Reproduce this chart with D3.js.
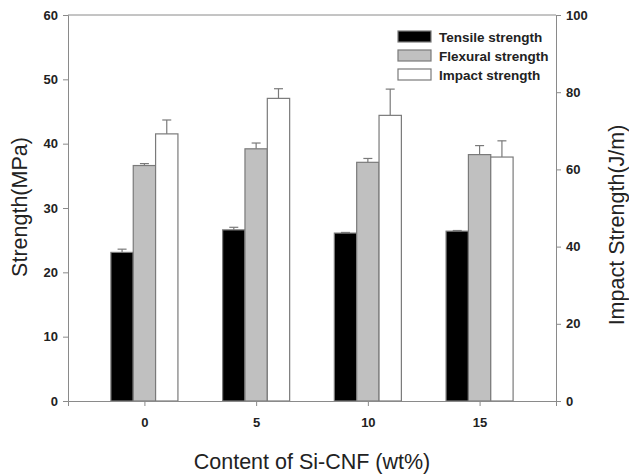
<!DOCTYPE html>
<html>
<head>
<meta charset="utf-8">
<script src="https://cdn.jsdelivr.net/npm/d3@7"></script>
<style>
  body { margin: 0; background: #fff; }
  svg { display: block; font-family: "Liberation Sans", Arial, sans-serif; }
</style>
</head>
<body>
<div id="chart"></div>
<script>
// data
const contents = ["0", "5", "10", "15"];
const tensile = [23.1, 26.6, 26.1, 26.4];
const tensileErr = [0.5, 0.4, 0.1, 0.1];
const flexural = [36.6, 39.2, 37.1, 38.3];
const flexuralErr = [0.3, 0.9, 0.6, 1.4];
const impact = [69.2, 78.4, 74.0, 63.2];   // right axis, J/m
const impactErr = [3.6, 2.5, 6.8, 4.2];
const leftTicks = [0, 10, 20, 30, 40, 50, 60];
const rightTicks = [0, 20, 40, 60, 80, 100];

const series = [
  { name: "Tensile strength", values: tensile, err: tensileErr, fill: "#000000", axis: "left" },
  { name: "Flexural strength", values: flexural, err: flexuralErr, fill: "#c0c0c0", axis: "left" },
  { name: "Impact strength", values: impact, err: impactErr, fill: "#ffffff", axis: "right" }
];

const W = 629, H = 476;
const margin = { top: 15, right: 73, bottom: 75, left: 68 };
const width = W - margin.left - margin.right;
const height = H - margin.top - margin.bottom;
const axisColor = "#8a8a8a";
const barStroke = "#7a7a7a";

const svg = d3.select("#chart").append("svg")
  .attr("width", W).attr("height", H);
const g = svg.append("g")
  .attr("transform", `translate(${margin.left},${margin.top})`);

const x = d3.scalePoint().domain(contents).range([0, width]).padding(0.684);
const step = x.step();
const sub = d3.scaleBand().domain(series.map(s => s.name))
  .range([-step * 0.3, step * 0.3]).padding(0);
const yL = d3.scaleLinear().domain([0, 60]).range([height, 0]);
const yR = d3.scaleLinear().domain([0, 100]).range([height, 0]);

// frame
g.append("line").attr("x1", 0).attr("x2", width).attr("y1", 0).attr("y2", 0)
  .attr("stroke", axisColor);

// bars
series.forEach(s => {
  const y = s.axis === "left" ? yL : yR;
  const grp = g.append("g");
  const cx = i => x(contents[i]) + sub(s.name) + sub.bandwidth() / 2;
  // error bars (upper only)
  grp.selectAll("line.err").data(s.values).join("line")
    .attr("x1", (d, i) => cx(i)).attr("x2", (d, i) => cx(i))
    .attr("y1", d => y(d)).attr("y2", (d, i) => y(d + s.err[i]))
    .attr("stroke", barStroke).attr("stroke-width", 1.2);
  grp.selectAll("line.cap").data(s.values).join("line")
    .attr("x1", (d, i) => cx(i) - 4.5).attr("x2", (d, i) => cx(i) + 4.5)
    .attr("y1", (d, i) => y(d + s.err[i])).attr("y2", (d, i) => y(d + s.err[i]))
    .attr("stroke", barStroke).attr("stroke-width", 1.2);
  grp.selectAll("rect").data(s.values).join("rect")
    .attr("x", (d, i) => x(contents[i]) + sub(s.name))
    .attr("width", sub.bandwidth())
    .attr("y", d => y(d))
    .attr("height", d => height - y(d))
    .attr("fill", s.fill)
    .attr("stroke", barStroke).attr("stroke-width", 1.2);
});

// axes
function styleAxis(sel) {
  sel.select(".domain").attr("stroke", axisColor);
  sel.selectAll(".tick line").attr("stroke", axisColor);
  sel.selectAll(".tick text").attr("fill", "#222")
    .attr("font-size", 13).attr("font-weight", "bold");
}
g.append("g").attr("transform", `translate(0,${height})`)
  .call(d3.axisBottom(x).tickSizeOuter(0).tickSize(5).tickPadding(12))
  .call(styleAxis);
g.append("g")
  .call(d3.axisLeft(yL).tickValues(leftTicks).tickSizeOuter(0).tickSize(5).tickPadding(5))
  .call(styleAxis);
g.append("g").attr("transform", `translate(${width},0)`)
  .call(d3.axisRight(yR).tickValues(rightTicks).tickSizeOuter(0).tickSize(5).tickPadding(5))
  .call(styleAxis);

// axis titles
svg.append("text")
  .attr("transform", `translate(27,207) rotate(-90)`)
  .attr("text-anchor", "middle").attr("font-size", 21.5).attr("fill", "#222")
  .text("Strength(MPa)");
svg.append("text")
  .attr("transform", `translate(624,225) rotate(-90)`)
  .attr("text-anchor", "middle").attr("font-size", 21.5).attr("fill", "#222")
  .text("Impact Strength(J/m)");
svg.append("text")
  .attr("x", 312).attr("y", 469)
  .attr("text-anchor", "middle").attr("font-size", 21.5).attr("fill", "#222")
  .text("Content of Si-CNF (wt%)");

// legend
const legend = svg.append("g").attr("transform", "translate(398,31)");
series.forEach((s, i) => {
  const row = legend.append("g").attr("transform", `translate(0,${i * 19})`);
  row.append("rect").attr("width", 33).attr("height", 11)
    .attr("fill", s.fill).attr("stroke", barStroke).attr("stroke-width", 1.2);
  row.append("text").attr("x", 41).attr("y", 10.5)
    .attr("font-size", 13.5).attr("font-weight", "bold").attr("fill", "#222")
    .text(s.name);
});
</script>
</body>
</html>
